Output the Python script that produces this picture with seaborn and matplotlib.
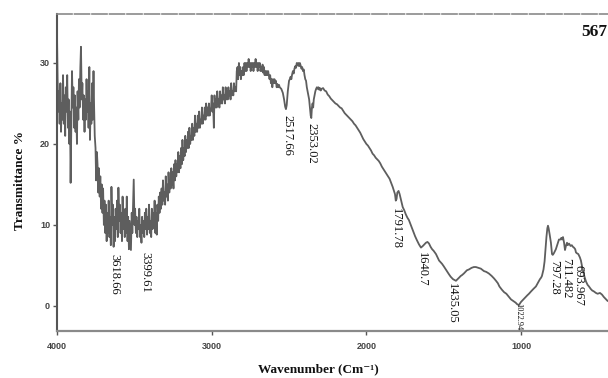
import matplotlib
matplotlib.use("Agg")
import matplotlib.pyplot as plt
import seaborn as sns
import pandas as pd

# ---- data: (wavenumber cm^-1, transmittance %) ----
seg_oh_band = [
    (4000, 33.5), (3996, 28.0), (3992, 24.0), (3987, 26.5), (3983, 22.5), (3978, 27.5), (3974, 21.5),
    (3970, 25.0), (3965, 23.0), (3961, 28.5), (3956, 22.5), (3952, 26.0), (3947, 21.0), (3943, 27.0),
    (3938, 24.0), (3934, 28.5), (3929, 22.0), (3925, 25.5), (3920, 20.0), (3916, 24.0), (3912, 15.2),
    (3907, 23.5), (3903, 29.0), (3898, 24.5), (3894, 27.0), (3889, 22.0), (3885, 26.0), (3880, 21.5),
    (3876, 24.5), (3871, 20.0), (3867, 26.5), (3862, 23.0), (3858, 28.0), (3854, 24.5), (3849, 29.5),
    (3845, 32.0), (3840, 25.5), (3836, 27.5), (3831, 23.0), (3827, 26.0), (3822, 21.5), (3818, 25.5),
    (3813, 23.0), (3809, 28.0), (3805, 24.0), (3800, 26.5), (3796, 22.0), (3791, 29.5), (3787, 20.5),
    (3782, 25.0), (3778, 22.5), (3773, 27.5), (3769, 23.0), (3764, 29.0), (3760, 24.5), (3756, 21.0),
    (3751, 19.5), (3747, 15.5), (3742, 19.0), (3738, 17.5), (3733, 14.0), (3729, 17.0), (3724, 13.5),
    (3720, 16.0), (3715, 12.0), (3711, 15.0), (3706, 11.5), (3702, 14.5), (3697, 10.0), (3693, 13.0),
    (3688, 9.0), (3684, 12.5), (3679, 8.0), (3675, 11.5), (3670, 9.0), (3666, 13.0), (3661, 8.5),
    (3657, 11.0), (3652, 7.5), (3648, 14.7), (3643, 10.0), (3639, 12.5), (3634, 7.3), (3630, 11.0),
    (3625, 8.0), (3621, 12.0), (3616, 9.5), (3612, 13.0), (3607, 8.5), (3603, 14.6), (3598, 10.5),
    (3594, 12.5), (3589, 9.0), (3585, 11.5), (3580, 8.0), (3576, 13.5), (3571, 9.5), (3567, 11.5),
    (3562, 8.5), (3558, 12.0), (3553, 9.0), (3549, 13.5), (3544, 8.0), (3540, 11.0), (3535, 7.0),
    (3531, 10.5), (3526, 8.5), (3522, 6.9), (3517, 11.5), (3513, 9.0), (3508, 12.5), (3504, 15.6),
    (3499, 10.0), (3495, 12.0), (3490, 9.0), (3486, 11.0), (3481, 8.5), (3477, 10.5), (3472, 9.5),
    (3468, 12.0), (3463, 8.5), (3459, 10.0), (3454, 7.8), (3450, 11.0), (3445, 9.0), (3441, 10.5),
    (3436, 8.5), (3432, 11.5), (3427, 9.5), (3423, 12.0), (3418, 8.8), (3414, 11.0), (3409, 9.5),
    (3405, 12.5), (3400, 9.0), (3396, 10.5), (3391, 8.5), (3387, 12.0), (3382, 9.5), (3378, 11.5),
    (3373, 10.0), (3369, 13.0), (3364, 9.0), (3360, 11.5), (3355, 8.8), (3351, 12.5), (3346, 10.5),
    (3342, 13.5),
]
seg_rise = [
    (3337, 11.5), (3333, 14.0), (3328, 12.0), (3324, 14.5), (3319, 12.5), (3315, 15.5), (3310, 13.0),
    (3306, 14.0), (3301, 12.5), (3297, 16.0), (3292, 13.5), (3288, 15.0), (3283, 13.0), (3279, 16.5),
    (3274, 14.0), (3270, 15.5), (3265, 14.5), (3261, 17.0), (3256, 15.0), (3252, 16.5), (3247, 14.5),
    (3243, 17.5), (3238, 15.5), (3234, 18.0), (3229, 16.0), (3225, 17.5), (3220, 16.5), (3216, 19.0),
    (3211, 16.5), (3207, 18.5), (3202, 17.0), (3198, 19.5), (3193, 17.5), (3189, 20.5), (3184, 18.0),
    (3180, 19.5), (3175, 18.5), (3171, 21.0), (3166, 19.0), (3162, 20.5), (3157, 19.5), (3153, 21.5),
    (3148, 19.5), (3144, 22.0), (3139, 20.0), (3135, 21.0), (3130, 20.5), (3126, 22.5), (3121, 20.5),
    (3117, 22.0), (3112, 21.0), (3108, 23.5), (3103, 21.5), (3099, 22.5), (3094, 21.5), (3090, 23.5),
    (3085, 22.0), (3081, 24.0), (3076, 22.0), (3072, 23.0), (3067, 22.5), (3063, 24.5), (3058, 22.5),
    (3054, 23.5), (3049, 23.0), (3045, 24.5), (3040, 23.0), (3036, 25.0), (3031, 23.5), (3027, 24.5),
    (3022, 23.5), (3018, 25.0), (3013, 23.5), (3009, 24.0), (3004, 24.5), (3000, 26.0), (2995, 24.0),
    (2991, 25.0), (2986, 22.0), (2982, 26.0), (2977, 24.5), (2973, 25.5), (2968, 24.5), (2964, 26.5),
    (2959, 25.0), (2955, 25.5), (2950, 24.5), (2946, 26.5), (2941, 25.0), (2937, 26.0), (2932, 25.0),
    (2928, 27.0), (2923, 25.5), (2919, 26.0), (2914, 25.0), (2910, 27.0), (2905, 25.5), (2901, 26.5),
    (2896, 25.5), (2892, 27.0), (2887, 26.0), (2883, 26.5), (2878, 25.5), (2874, 27.5), (2869, 26.0),
    (2865, 26.5), (2860, 26.0), (2856, 27.5), (2851, 26.5), (2847, 27.0), (2842, 26.5), (2838, 29.0),
    (2833, 29.5), (2829, 28.0),
]
seg_plateau = [
    (2824, 30.0), (2820, 28.5), (2815, 29.5), (2811, 28.0), (2806, 29.0), (2802, 28.5), (2797, 29.5),
    (2793, 28.5), (2788, 30.0), (2784, 29.0), (2779, 30.0), (2775, 29.0), (2770, 30.0), (2766, 29.5),
    (2761, 30.5), (2757, 29.5), (2752, 30.0), (2748, 29.0), (2743, 30.0), (2739, 29.5), (2734, 30.0),
    (2730, 29.0), (2725, 30.0), (2721, 29.5), (2716, 30.5), (2712, 29.5), (2707, 30.0), (2703, 29.0),
    (2698, 30.0), (2694, 29.5), (2689, 30.0), (2685, 29.0), (2680, 29.5), (2676, 29.0), (2671, 29.8),
    (2667, 28.8), (2662, 29.5), (2658, 28.5), (2653, 29.0), (2649, 28.5), (2644, 29.0), (2640, 28.5),
    (2635, 29.0), (2631, 28.5), (2626, 28.0), (2622, 28.5), (2617, 27.5), (2612, 28.0), (2608, 27.0),
    (2603, 28.0), (2599, 27.5), (2594, 28.0), (2590, 27.5), (2585, 27.8), (2580, 27.0), (2575, 27.4),
    (2570, 27.0), (2565, 27.3), (2560, 27.0), (2550, 26.8), (2540, 26.3), (2532, 25.5), (2525, 24.6),
    (2520, 24.3), (2515, 24.8), (2508, 26.5), (2500, 27.8), (2495, 28.0), (2490, 28.3), (2485, 28.0),
    (2480, 28.6), (2475, 29.0), (2470, 28.7), (2465, 29.3), (2460, 29.6), (2455, 29.4), (2450, 30.0),
    (2445, 29.7), (2440, 30.0), (2435, 29.6), (2430, 30.0), (2425, 29.7), (2420, 29.3), (2415, 29.5),
    (2410, 29.0), (2405, 29.2), (2400, 28.5), (2395, 28.0), (2390, 27.8), (2385, 27.0), (2380, 26.5),
    (2375, 26.0), (2370, 25.5), (2365, 24.5), (2360, 23.5), (2356, 23.2), (2352, 24.5), (2348, 25.0),
    (2344, 24.5), (2340, 25.5), (2335, 26.0), (2330, 26.5), (2325, 26.8), (2320, 27.0), (2315, 26.8),
    (2310, 27.0), (2305, 26.7), (2300, 26.9), (2295, 26.6), (2290, 26.8),
]
seg_fingerprint = [
    (2280, 26.9), (2270, 26.6), (2260, 26.5), (2250, 26.1), (2240, 25.9), (2230, 25.6), (2220, 25.4),
    (2210, 25.2), (2200, 25.0), (2190, 24.9), (2180, 24.7), (2170, 24.5), (2160, 24.4), (2150, 24.1),
    (2140, 23.8), (2130, 23.6), (2120, 23.4), (2110, 23.2), (2100, 23.0), (2090, 22.8), (2080, 22.5),
    (2070, 22.3), (2060, 22.0), (2050, 21.7), (2040, 21.4), (2030, 21.0), (2020, 20.6), (2010, 20.3),
    (2000, 20.0), (1990, 19.8), (1980, 19.5), (1970, 19.2), (1960, 18.8), (1950, 18.6), (1940, 18.3),
    (1930, 18.1), (1920, 17.9), (1910, 17.6), (1900, 17.2), (1890, 16.9), (1880, 16.6), (1870, 16.3),
    (1860, 16.0), (1850, 15.7), (1840, 15.2), (1830, 14.7), (1822, 14.2), (1815, 13.8), (1810, 13.0),
    (1805, 13.2), (1800, 14.0), (1792, 14.2), (1785, 13.8), (1775, 13.0), (1765, 12.2), (1755, 11.8),
    (1745, 11.3), (1735, 10.9), (1725, 10.6), (1715, 10.1), (1705, 9.6), (1695, 9.1), (1685, 8.6),
    (1673, 8.1), (1660, 7.6), (1647, 7.2), (1635, 7.4), (1625, 7.6), (1615, 7.8), (1605, 7.9),
    (1595, 7.7), (1585, 7.3), (1575, 7.0), (1565, 6.8), (1550, 6.4), (1540, 6.0), (1530, 5.6),
    (1511, 5.2), (1500, 4.9), (1490, 4.6), (1480, 4.3), (1466, 3.9), (1455, 3.6), (1440, 3.3),
    (1430, 3.2), (1421, 3.1), (1410, 3.3), (1400, 3.5), (1390, 3.7), (1382, 3.8), (1370, 4.0),
    (1360, 4.2), (1350, 4.4), (1337, 4.5), (1320, 4.7), (1305, 4.8), (1292, 4.8), (1275, 4.7),
    (1260, 4.6), (1253, 4.5), (1240, 4.3), (1225, 4.2), (1208, 4.0), (1190, 3.7), (1175, 3.4),
    (1162, 3.1), (1150, 2.8), (1140, 2.4), (1124, 2.0), (1110, 1.7), (1095, 1.5), (1078, 1.1),
    (1065, 0.8), (1050, 0.6), (1035, 0.4), (1025, 0.2), (1014, 0.1), (1000, 0.5), (985, 0.8),
    (970, 1.1), (960, 1.3), (949, 1.5), (935, 1.8), (920, 2.1), (904, 2.4), (890, 2.9), (878, 3.3),
    (870, 3.5), (865, 3.7), (855, 4.5), (848, 5.5), (842, 7.0), (836, 8.5), (830, 9.6), (826, 9.9),
    (822, 9.6), (815, 8.8), (807, 7.8), (800, 6.4), (795, 6.3), (788, 6.5), (780, 6.8), (775, 7.0),
    (765, 7.6), (755, 8.2), (745, 8.2), (740, 8.4), (735, 8.2), (729, 8.5), (722, 7.8), (716, 6.9),
    (710, 7.4), (703, 7.8), (698, 7.5), (690, 7.7), (680, 7.4), (672, 7.5), (665, 7.3), (658, 7.2),
    (650, 7.0), (645, 6.6), (639, 6.5), (630, 6.4), (620, 6.0), (613, 5.6), (605, 4.8), (597, 4.2),
    (590, 3.6), (580, 3.0), (570, 2.6), (561, 2.4), (550, 2.1), (540, 1.9), (530, 1.8), (516, 1.6),
    (505, 1.5), (490, 1.6), (477, 1.4), (465, 1.1), (455, 0.9), (445, 0.7), (440, 0.6),
]

peak_labels = ["3618.66", "3399.61", "2517.66", "2353.02", "1791.78", "1640.7",
               "1435.05", "1022.94", "797.28", "711.482", "693.967"]
label_anchor_wn = [3632, 3431, 2513, 2358, 1809, 1641, 1447, 1020, 787, 710, 626]
label_anchor_t = [6.4, 6.7, 23.6, 22.6, 12.1, 6.7, 2.85, 0.37, 5.7, 5.95, 5.1]

x_ticks = [4000, 3000, 2000, 1000]
y_ticks = [0, 10, 20, 30]

# ---- build frame ----
pts = seg_oh_band + seg_rise + seg_plateau + seg_fingerprint
df = pd.DataFrame(pts, columns=["wavenumber", "transmittance"])

sns.set_theme(style="white")
plt.rcParams["font.family"] = ["DejaVu Sans"]

fig = plt.figure(figsize=(6.08, 3.78), dpi=100)
ax = fig.add_axes([57 / 608, 47 / 378, 551 / 608, 317 / 378])

sns.lineplot(data=df, x="wavenumber", y="transmittance", sort=False, estimator=None,
             color="#5e5e5e", linewidth=1.3, ax=ax)

ax.set_xlim(4000, 438)
ax.set_ylim(-3.1, 36.05)
ax.set_xticks(x_ticks)
ax.set_yticks(y_ticks)
ax.set_xticklabels([str(v) for v in x_ticks], fontsize=6.5, fontweight="bold",
                   color="#444444", family=["Liberation Sans", "DejaVu Sans"])
ax.set_yticklabels([str(v) for v in y_ticks], fontsize=6.5, fontweight="bold",
                   color="#444444", family=["Liberation Sans", "DejaVu Sans"])
ax.tick_params(axis="both", which="major", length=3, width=1, color="#555555",
               direction="out", pad=2, left=True, bottom=True)
ax.tick_params(axis="x", pad=5)

for side in ["left", "bottom", "top"]:
    ax.spines[side].set_visible(True)
ax.spines["right"].set_visible(False)
ax.spines["left"].set_color("#555555")
ax.spines["left"].set_linewidth(1.5)
ax.spines["bottom"].set_color("#8a8a8a")
ax.spines["bottom"].set_linewidth(1.6)
ax.spines["top"].set_color("#8a8a8a")
ax.spines["top"].set_linewidth(1.2)
ax.spines["top"].set_linestyle((0, (9, 1.5)))

ax.set_xlabel("")
ax.set_ylabel("")
serif = ["Liberation Serif", "DejaVu Serif"]
fig.text(318 / 608, 1 - 369 / 378, "Wavenumber (Cm\u207b\u00b9)", ha="center", va="center",
         fontsize=9.5, fontweight="bold", family=serif, color="#111111")
fig.text(20 / 608, 1 - 180 / 378, "Transmittance %", ha="center", va="center", rotation=90,
         fontsize=9.5, fontweight="bold", family=serif, color="#111111")
fig.text(607 / 608, 1 - 32 / 378, "567", ha="right", va="center",
         fontsize=12.5, fontweight="bold", family=serif, color="#111111")

for lab, wx, ty in zip(peak_labels, label_anchor_wn, label_anchor_t):
    fs = 6 if lab == "1022.94" else 9
    ax.text(wx, ty, lab, rotation=-90, ha="center", va="top", fontsize=fs,
            family=serif, color="#111111")

fig.savefig("out.png", dpi=100)
